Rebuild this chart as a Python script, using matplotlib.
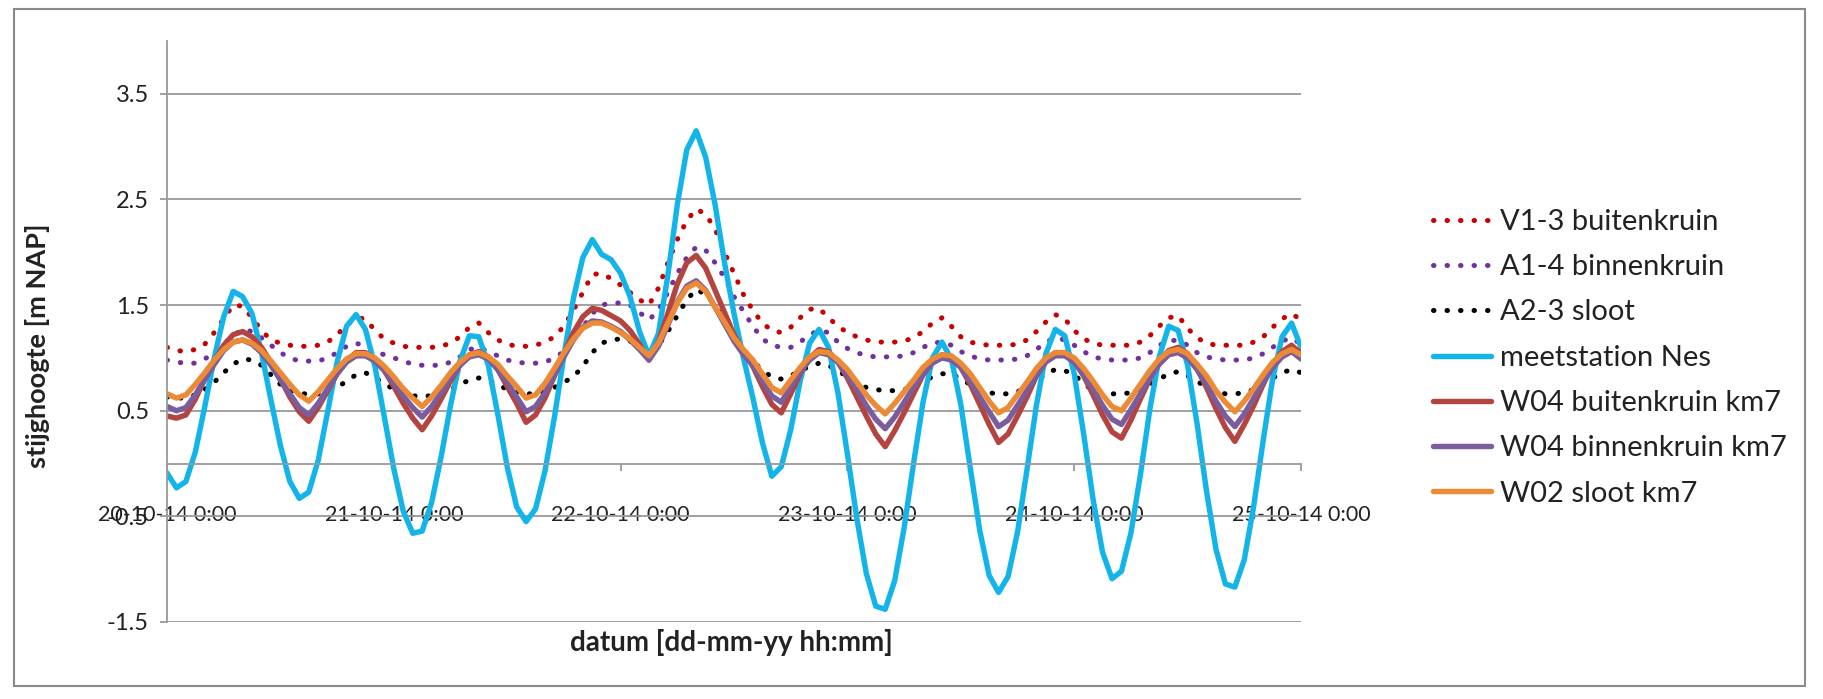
import matplotlib
matplotlib.use("Agg")
import matplotlib.pyplot as plt
import matplotlib.dates as mdates
import pandas as pd
from matplotlib.patches import Rectangle
from matplotlib.ticker import FuncFormatter

plt.rcParams['font.family'] = ['Lato', 'DejaVu Sans']

# hourly readings from 20-10-14 0:00 up to 25-10-14 0:00
times = pd.date_range('2014-10-20 00:00', periods=121, freq='h')

v13_buitenkruin = [
    1.10, 1.07, 1.06, 1.08, 1.13, 1.24, 1.37, 1.50, 1.49, 1.38,
    1.26, 1.17, 1.14, 1.12, 1.11, 1.11, 1.12, 1.15, 1.22, 1.31,
    1.38, 1.37, 1.26, 1.18, 1.14, 1.11, 1.10, 1.10, 1.10, 1.11,
    1.14, 1.20, 1.29, 1.33, 1.24, 1.17, 1.13, 1.11, 1.11, 1.12,
    1.15, 1.20, 1.30, 1.45, 1.62, 1.79, 1.80, 1.75, 1.69, 1.62,
    1.55, 1.50, 1.66, 1.90, 2.12, 2.30, 2.41, 2.36, 2.22, 2.00,
    1.80, 1.60, 1.45, 1.33, 1.26, 1.24, 1.29, 1.38, 1.46, 1.47,
    1.38, 1.30, 1.24, 1.20, 1.17, 1.15, 1.15, 1.15, 1.16, 1.19,
    1.25, 1.33, 1.38, 1.30, 1.20, 1.15, 1.13, 1.12, 1.12, 1.12,
    1.13, 1.17, 1.25, 1.34, 1.41, 1.37, 1.26, 1.18, 1.14, 1.12,
    1.12, 1.12, 1.12, 1.15, 1.21, 1.30, 1.38, 1.40, 1.28, 1.19,
    1.14, 1.12, 1.12, 1.12, 1.12, 1.15, 1.20, 1.29, 1.37, 1.42,
    1.36]

a14_binnenkruin = [
    0.98, 0.96, 0.95, 0.95, 0.99, 1.05, 1.13, 1.21, 1.27, 1.25,
    1.19, 1.12, 1.05, 1.00, 0.97, 0.97, 0.97, 1.00, 1.05, 1.11,
    1.14, 1.11, 1.06, 1.03, 1.00, 0.97, 0.94, 0.93, 0.93, 0.93,
    0.96, 1.01, 1.08, 1.10, 1.06, 1.02, 0.98, 0.96, 0.95, 0.95,
    0.96, 1.00, 1.06, 1.16, 1.29, 1.42, 1.50, 1.52, 1.52, 1.50,
    1.43, 1.36, 1.45, 1.62, 1.80, 1.95, 2.05, 2.02, 1.90, 1.76,
    1.58, 1.44, 1.30, 1.18, 1.12, 1.10, 1.10, 1.15, 1.22, 1.26,
    1.24, 1.15, 1.09, 1.05, 1.02, 1.01, 1.01, 1.01, 1.02, 1.05,
    1.10, 1.14, 1.15, 1.12, 1.06, 1.02, 0.99, 0.98, 0.98, 0.98,
    0.99, 1.02, 1.08, 1.15, 1.19, 1.17, 1.12, 1.06, 1.01, 0.99,
    0.98, 0.98, 0.98, 1.00, 1.05, 1.12, 1.16, 1.17, 1.12, 1.05,
    1.01, 0.99, 0.98, 0.98, 0.98, 1.00, 1.04, 1.10, 1.16, 1.19,
    1.13]

a23_sloot = [
    0.63, 0.62, 0.62, 0.65, 0.70, 0.77, 0.86, 0.94, 0.99, 0.98,
    0.93, 0.84, 0.75, 0.69, 0.66, 0.66, 0.66, 0.68, 0.72, 0.78,
    0.84, 0.86, 0.81, 0.76, 0.70, 0.66, 0.64, 0.64, 0.64, 0.66,
    0.70, 0.75, 0.79, 0.81, 0.79, 0.75, 0.70, 0.67, 0.66, 0.66,
    0.68, 0.72, 0.77, 0.82, 0.92, 1.05, 1.14, 1.17, 1.18, 1.16,
    1.10, 1.04, 1.12, 1.25, 1.40, 1.55, 1.65, 1.60, 1.50, 1.35,
    1.20, 1.07, 0.97, 0.88, 0.82, 0.80, 0.83, 0.88, 0.92, 0.95,
    0.93, 0.88, 0.82, 0.76, 0.72, 0.70, 0.69, 0.69, 0.70, 0.73,
    0.78, 0.82, 0.85, 0.85, 0.80, 0.75, 0.70, 0.67, 0.66, 0.66,
    0.68, 0.72, 0.78, 0.85, 0.89, 0.88, 0.84, 0.76, 0.69, 0.66,
    0.66, 0.66, 0.67, 0.70, 0.75, 0.80, 0.85, 0.87, 0.83, 0.78,
    0.72, 0.68, 0.66, 0.66, 0.67, 0.70, 0.75, 0.81, 0.86, 0.89,
    0.86]

nes = [
    -0.09, -0.23, -0.17, 0.11, 0.54, 1.00, 1.39, 1.63, 1.58, 1.42,
    1.05, 0.60, 0.17, -0.17, -0.33, -0.27, 0.03, 0.49, 0.96, 1.30,
    1.41, 1.27, 0.92, 0.44, -0.05, -0.45, -0.66, -0.64, -0.37, 0.06,
    0.55, 0.97, 1.21, 1.20, 0.93, 0.47, -0.03, -0.41, -0.55, -0.43,
    -0.07, 0.44, 1.02, 1.56, 1.95, 2.12, 1.98, 1.93, 1.80, 1.58,
    1.25, 1.02, 1.23, 1.78, 2.45, 2.97, 3.15, 2.90, 2.45, 1.90,
    1.42, 1.00, 0.62, 0.20, -0.12, -0.03, 0.32, 0.78, 1.14, 1.27,
    1.10, 0.67, 0.09, -0.52, -1.04, -1.35, -1.38, -1.11, -0.61, 0.00,
    0.58, 1.00, 1.15, 0.99, 0.56, -0.04, -0.63, -1.06, -1.22, -1.07,
    -0.65, -0.06, 0.55, 1.04, 1.27, 1.21, 0.85, 0.28, -0.34, -0.84,
    -1.09, -1.02, -0.66, -0.11, 0.51, 1.01, 1.30, 1.26, 0.93, 0.38,
    -0.26, -0.81, -1.14, -1.17, -0.91, -0.40, 0.22, 0.80, 1.20, 1.33,
    1.10]

w04_buitenkruin = [
    0.45, 0.43, 0.46, 0.61, 0.80, 0.97, 1.12, 1.22, 1.25, 1.20,
    1.10, 0.96, 0.80, 0.63, 0.49, 0.40, 0.53, 0.69, 0.85, 0.97,
    1.05, 1.05, 0.99, 0.88, 0.73, 0.57, 0.43, 0.32, 0.45, 0.61,
    0.78, 0.93, 1.03, 1.06, 1.01, 0.89, 0.73, 0.57, 0.39, 0.46,
    0.62, 0.83, 1.04, 1.24, 1.39, 1.47, 1.45, 1.40, 1.35, 1.26,
    1.13, 0.98, 1.15, 1.42, 1.70, 1.90, 1.97, 1.85, 1.64, 1.43,
    1.22, 1.06, 0.92, 0.73, 0.56, 0.48, 0.66, 0.85, 1.00, 1.08,
    1.06, 0.96, 0.81, 0.63, 0.45, 0.28, 0.16, 0.31, 0.48, 0.66,
    0.84, 0.96, 1.03, 1.01, 0.91, 0.75, 0.56, 0.37, 0.20, 0.28,
    0.45, 0.63, 0.83, 0.97, 1.05, 1.05, 0.97, 0.83, 0.65, 0.46,
    0.30, 0.24, 0.41, 0.61, 0.80, 0.97, 1.07, 1.10, 1.04, 0.90,
    0.72, 0.52, 0.34, 0.21, 0.37, 0.55, 0.75, 0.93, 1.06, 1.12,
    1.04]

w04_binnenkruin = [
    0.54, 0.50, 0.53, 0.65, 0.80, 0.94, 1.07, 1.15, 1.17, 1.13,
    1.05, 0.93, 0.79, 0.66, 0.53, 0.46, 0.57, 0.71, 0.85, 0.96,
    1.02, 1.02, 0.97, 0.88, 0.76, 0.64, 0.53, 0.44, 0.54, 0.67,
    0.81, 0.93, 1.01, 1.03, 0.99, 0.89, 0.77, 0.63, 0.49, 0.54,
    0.67, 0.84, 1.01, 1.17, 1.29, 1.35, 1.34, 1.30, 1.25, 1.17,
    1.08, 0.98, 1.11, 1.31, 1.53, 1.68, 1.73, 1.64, 1.48, 1.32,
    1.16, 1.03, 0.93, 0.78, 0.64, 0.58, 0.73, 0.87, 0.98, 1.05,
    1.03, 0.96, 0.84, 0.70, 0.55, 0.42, 0.33, 0.44, 0.58, 0.72,
    0.85, 0.95, 1.00, 0.98, 0.91, 0.78, 0.63, 0.49, 0.35, 0.41,
    0.55, 0.69, 0.84, 0.96, 1.02, 1.02, 0.96, 0.84, 0.70, 0.55,
    0.42, 0.37, 0.51, 0.66, 0.81, 0.94, 1.03, 1.05, 1.00, 0.89,
    0.75, 0.59, 0.45, 0.35, 0.47, 0.62, 0.77, 0.91, 1.01, 1.06,
    0.99]

w02_sloot = [
    0.66, 0.62, 0.65, 0.75, 0.86, 0.98, 1.08, 1.15, 1.17, 1.14,
    1.07, 0.97, 0.86, 0.75, 0.65, 0.59, 0.68, 0.79, 0.90, 0.99,
    1.04, 1.04, 1.00, 0.92, 0.82, 0.71, 0.62, 0.54, 0.63, 0.74,
    0.86, 0.96, 1.03, 1.05, 1.01, 0.94, 0.83, 0.73, 0.62, 0.65,
    0.76, 0.90, 1.05, 1.18, 1.28, 1.33, 1.33, 1.29, 1.24, 1.18,
    1.10, 1.02, 1.14, 1.33, 1.52, 1.66, 1.71, 1.63, 1.48, 1.34,
    1.19, 1.08, 0.98, 0.85, 0.72, 0.67, 0.79, 0.91, 1.01, 1.06,
    1.05, 0.98, 0.89, 0.77, 0.65, 0.55, 0.47, 0.57, 0.68, 0.79,
    0.91, 0.99, 1.03, 1.02, 0.95, 0.85, 0.72, 0.59, 0.48, 0.53,
    0.65, 0.77, 0.90, 1.00, 1.05, 1.05, 1.00, 0.90, 0.78, 0.65,
    0.54, 0.50, 0.62, 0.75, 0.88, 0.99, 1.06, 1.08, 1.04, 0.94,
    0.83, 0.69, 0.58, 0.49, 0.59, 0.71, 0.84, 0.96, 1.04, 1.08,
    1.03]

labels = ['V1-3 buitenkruin', 'A1-4 binnenkruin', 'A2-3 sloot', 'meetstation Nes',
          'W04 buitenkruin km7', 'W04 binnenkruin km7', 'W02 sloot km7']
series = [v13_buitenkruin, a14_binnenkruin, a23_sloot, nes,
          w04_buitenkruin, w04_binnenkruin, w02_sloot]
colors = ['#c80000', '#7030a0', '#000000', '#12b4ea', '#b4443f', '#7b5c9c', '#ec8a36']
dotted = [True, True, True, False, False, False, False]

day_ticks = pd.date_range('2014-10-20', periods=6, freq='D')
y_ticks = [-1.5, -0.5, 0.5, 1.5, 2.5, 3.5]

axis_grey = '#999999'
text_col = '#222222'

fig = plt.figure(figsize=(18.24, 6.99), dpi=100)
ax = fig.add_axes([167 / 1824, 77 / 699, 1134 / 1824, 581 / 699])

lines = []
for vals, lab, col, dot in zip(series, labels, colors, dotted):
    if dot:
        ln, = ax.plot(times, vals, color=col, lw=3.6, linestyle=(0, (0.1, 2.6)),
                      dash_capstyle='round', label=lab)
    else:
        ln, = ax.plot(times, vals, color=col, lw=3.9, solid_capstyle='round',
                      solid_joinstyle='round', label=lab)
    lines.append(ln)

ax.set_xlim(times[0], times[-1])
ax.set_ylim(-1.5, 4.0)
ax.set_yticks(y_ticks)
ax.yaxis.set_major_formatter(FuncFormatter(lambda v, p: f'{v:.1f}'))
ax.set_xticks(day_ticks)


def day_label(x, pos):
    d = mdates.num2date(x)
    return f'{d:%d-%m-%y} {d.hour}:{d:%M}'


ax.xaxis.set_major_formatter(FuncFormatter(day_label))

ax.grid(axis='y', color=axis_grey, lw=1.3)
ax.set_axisbelow(True)
for side in ['top', 'right']:
    ax.spines[side].set_visible(False)
ax.spines['left'].set_color(axis_grey)
ax.spines['left'].set_linewidth(1.3)
ax.spines['bottom'].set_position(('data', 0))
ax.spines['bottom'].set_color(axis_grey)
ax.spines['bottom'].set_linewidth(1.3)

ax.tick_params(axis='x', direction='out', length=5, width=1.3, color=axis_grey,
               pad=25, labelsize=15.5, labelcolor=text_col)
ax.tick_params(axis='y', direction='out', length=5, width=1.3, color=axis_grey,
               pad=8, labelsize=17, labelcolor=text_col)

fig.text(731 / 1824, 1 - 643 / 699, 'datum [dd-mm-yy hh:mm]', ha='center', va='center',
         fontsize=20, fontweight='bold', color=text_col)
fig.text(38 / 1824, 1 - 346 / 699, 'stijghoogte [m NAP]', ha='center', va='center',
         rotation=90, fontsize=19.5, fontweight='bold', color=text_col)

leg = fig.legend(lines, labels, loc='upper left', bbox_to_anchor=(1433 / 1824, 1 - 209 / 699),
                 frameon=False, fontsize=21, handlelength=2.0, handletextpad=0.3,
                 labelspacing=0.66, borderpad=0, borderaxespad=0)
for t in leg.get_texts():
    t.set_color(text_col)

fig.patches.append(Rectangle((14 / 1824, 1 - 686 / 699), 1791 / 1824, 677 / 699,
                             transform=fig.transFigure, fill=False, ec='#8a8a8a', lw=1.5))

fig.savefig('out.png', dpi=100)
